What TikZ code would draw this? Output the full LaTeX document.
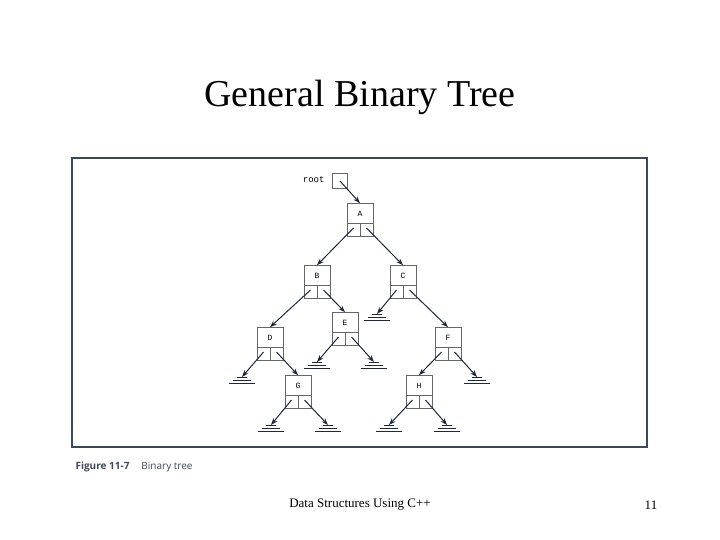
\documentclass[tikz,border=0pt]{standalone}
\usepackage{fontspec}
\setmainfont{Liberation Serif}
\setsansfont{Open Sans}
\setmonofont{Liberation Mono}
\usetikzlibrary{arrows.meta}
\definecolor{navy}{RGB}{30,40,55}
\definecolor{framec}{RGB}{60,72,88}
\tikzset{
  cell/.style={draw=gray!80!black,line width=0.6pt,minimum width=26pt,minimum height=33pt,inner sep=0pt},
  link/.style={navy,line width=1pt,-{Stealth[length=7pt,width=5pt]}},
  gnd/.style={navy,line width=1pt}
}
% node with label cell and two link cells
\newcommand\bnode[4]{%
  \node[cell] (#1) at (#3,#4) {};
  \node[font=\ttfamily\fontsize{8}{8}\selectfont] (#1-t) at (#3,#4-6.5) {#2};
  \draw[gray!80!black,line width=0.6pt] (#3-13,#4+3.5) -- (#3+13,#4+3.5) (#3,#4+3.5) -- (#3,#4+16.5);
  \coordinate (#1-l) at (#3-6.5,#4+8);
  \coordinate (#1-r) at (#3+6.5,#4+8);}
% ground symbol
\newcommand\grnd[3]{%
  \coordinate (#1) at (#2,#3);
  \draw[gnd] (#2-5,#3) -- (#2+5,#3) (#2-9,#3+3) -- (#2+9,#3+3) (#2-13,#3+6) -- (#2+13,#3+6);}
\begin{document}
\begin{tikzpicture}[x=1pt,y=-1pt]
\useasboundingbox (0,0) rectangle (720,540);
\node (title) at (360,97) {\fontsize{38}{40}\selectfont General Binary Tree};
\draw[framec,line width=1.5pt] (72,158) rectangle (647,447);
% root
\node[font=\ttfamily\fontsize{9}{9}\selectfont,anchor=east] (rootlbl) at (328,180) {root};
\node[draw=gray!80!black,line width=0.6pt,minimum size=15pt,inner sep=0pt] (root) at (340,181) {};
% nodes
\bnode{A}{A}{360}{220}
\bnode{B}{B}{317}{282}
\bnode{C}{C}{403}{282}
\bnode{D}{D}{270}{344}
\bnode{E}{E}{345}{329}
\bnode{F}{F}{448}{344}
\bnode{G}{G}{298}{392}
\bnode{H}{H}{419}{392}
% null links
\grnd{nC}{377}{314}
\grnd{nD}{242}{377}
\grnd{nEl}{317}{362}
\grnd{nEr}{374}{362}
\grnd{nF}{477}{377}
\grnd{nGl}{271}{425}
\grnd{nGr}{328}{425}
\grnd{nHl}{389}{425}
\grnd{nHr}{447}{425}
% links
\draw[link] (root.center) -- (A.north);
\draw[link] (A-l) -- (B.north);
\draw[link] (A-r) -- (C.north);
\draw[link] (B-l) -- (D.north);
\draw[link] (B-r) -- (E.north);
\draw[link] (C-l) -- (nC);
\draw[link] (C-r) -- (F.north);
\draw[link] (D-l) -- (nD);
\draw[link] (D-r) -- (G.north);
\draw[link] (E-l) -- (nEl);
\draw[link] (E-r) -- (nEr);
\draw[link] (F-l) -- (H.north);
\draw[link] (F-r) -- (nF);
\draw[link] (G-l) -- (nGl);
\draw[link] (G-r) -- (nGr);
\draw[link] (H-l) -- (nHl);
\draw[link] (H-r) -- (nHr);
% caption
\node[anchor=west,font=\sffamily\fontsize{10}{10}\selectfont,text=framec] (cap) at (72,467) {\textbf{Figure 11-7}\hspace{12pt}Binary tree};
\node (foot) at (360,505) {\fontsize{13}{13}\selectfont Data Structures Using C++};
\node (page) at (651,505) {\fontsize{13}{13}\selectfont 11};
\end{tikzpicture}
\end{document}
